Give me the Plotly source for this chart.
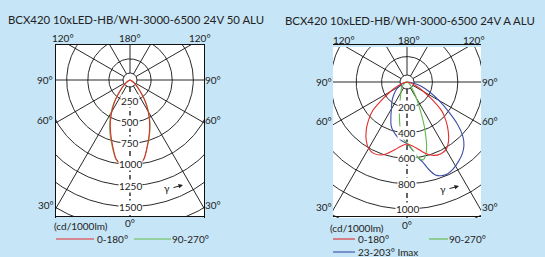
import numpy as np
import plotly.graph_objects as go

W, H = 545, 257

TITLES = ["BCX420 10xLED-HB/WH-3000-6500 24V 50 ALU",
          "BCX420 10xLED-HB/WH-3000-6500 24V A ALU"]

# ---- left diagram (cd/1000lm), gamma in degrees (negative = left half)
L_GAMMA = [-90, -80, -70, -65, -60, -55, -50, -45, -40, -35, -30, -25, -20, -15, -10, -5, 0,
           5, 10, 15, 20, 25, 30, 35, 40, 45, 50, 55, 60, 65, 70, 80, 90]
L_RED = [0, 3, 8, 15, 30, 55, 90, 135, 210, 320, 430, 550, 670, 800, 950, 1020, 1045,
         1020, 950, 800, 670, 550, 430, 320, 210, 135, 90, 55, 30, 15, 8, 3, 0]
L_GREEN = [0, 3, 8, 15, 30, 56, 92, 140, 218, 335, 450, 570, 690, 815, 955, 1015, 1035,
           1015, 950, 805, 680, 560, 440, 328, 214, 138, 91, 55, 30, 15, 8, 3, 0]

# ---- right diagram
R_RED_GAMMA = [-90, -85, -80, -75, -70, -65, -60, -55, -50, -45, -40, -35, -30, -25, -20, -15, -10, -5, 0,
               5, 10, 15, 20, 25, 30, 35, 40, 45, 50, 55, 60, 65, 70, 75, 80, 85, 90]
R_RED = [0, 3, 10, 25, 55, 100, 150, 235, 355, 430, 500, 560, 605, 620, 612, 580, 540, 505, 488,
         505, 540, 585, 615, 625, 615, 570, 505, 435, 360, 240, 150, 100, 55, 25, 10, 3, 0]

R_GREEN_GAMMA = [-90, -80, -70, -60, -50, -40, -30, -25, -20, -16, -13, -10, -7, -5, -3, 0,
                 3, 6, 9, 12, 14, 17, 20, 22, 25, 29, 33, 38, 45, 55, 70, 80, 90]
R_GREEN = [0, 4, 12, 25, 45, 70, 95, 120, 160, 215, 265, 330, 400, 430, 455, 480,
           510, 560, 610, 625, 600, 530, 420, 350, 250, 165, 110, 65, 40, 20, 8, 3, 0]

R_BLUE_GAMMA = [-90, -85, -80, -75, -70, -65, -60, -55, -50, -45, -40, -35, -30, -25, -20, -16, -12, -8, -4, 0,
                5, 8, 11, 14, 17, 20, 24, 28, 33, 38, 42, 46, 50, 55, 60, 65, 70, 75, 80, 85, 90]
R_BLUE = [0, 5, 13, 25, 38, 55, 75, 100, 125, 150, 180, 210, 245, 300, 365, 400, 425, 450, 470, 485,
          545, 600, 640, 710, 765, 785, 790, 775, 745, 710, 670, 610, 520, 390, 290, 210, 150, 100, 55, 25, 0]

L_RING_LABELS = [250, 500, 750, 1000, 1250, 1500]
L_RINGS = [250, 500, 750, 1000, 1250, 1500, 1750, 2000]
R_RING_LABELS = [200, 400, 600, 800, 1000]
R_RINGS = [200, 400, 600, 800, 1000, 1200, 1400]
RADIAL_ANGLES = [-150, -120, -90, -60, -30, 30, 60, 90, 120, 150, 180]

UNIT = "(cd/1000lm)"
LEG_C0 = "0-180°"
LEG_C90 = "90-270°"
LEG_IMAX = "23-203° Imax"

RED = "#e42b2f"
GREEN = "#62bb4a"
BLUE = "#3c4ea6"
BG = "#c6e5f6"
TXT = "#222222"
FONT = "Lato"


def px(x):
    return x / W


def py(y):
    return 1 - y / H


panels = [
    dict(box=(56, 204, 45, 216), pole=(130, 80), cdpx=250 / 21.1, rings=L_RINGS, labels=L_RING_LABELS,
         curves=[(L_GAMMA, L_GREEN, GREEN), (L_GAMMA, L_RED, RED)]),
    dict(box=(333, 481, 47, 218), pole=(407, 82), cdpx=200 / 25.4, rings=R_RINGS, labels=R_RING_LABELS,
         curves=[(R_BLUE_GAMMA, R_BLUE, BLUE), (R_GREEN_GAMMA, R_GREEN, GREEN), (R_RED_GAMMA, R_RED, RED)]),
]

fig = go.Figure()
annotations = []
shapes = []
GRID = dict(color="#111111", width=0.9)

for i, p in enumerate(panels):
    xa = "x" if i == 0 else "x2"
    ya = "y" if i == 0 else "y2"
    x0, x1, y0, y1 = p["box"]
    cx, cy = p["pole"]
    s = p["cdpx"]
    rmax = 3000
    r_small = 7 * s
    # rings
    t = np.linspace(0, 2 * np.pi, 361)
    for r in p["rings"]:
        fig.add_trace(go.Scatter(x=r * np.cos(t), y=r * np.sin(t), mode="lines", line=GRID,
                                 hoverinfo="skip", showlegend=False, xaxis=xa, yaxis=ya))
    # radial lines
    for g in RADIAL_ANGLES:
        a = np.radians(g)
        fig.add_trace(go.Scatter(x=[r_small * np.sin(a), rmax * np.sin(a)],
                                 y=[-r_small * np.cos(a), -rmax * np.cos(a)],
                                 mode="lines", line=GRID, hoverinfo="skip", showlegend=False,
                                 xaxis=xa, yaxis=ya))
    # 0 deg dashed axis
    fig.add_trace(go.Scatter(x=[0, 0], y=[-r_small, -rmax], mode="lines",
                             line=dict(color="#111111", width=1.3, dash="5px,3px"),
                             hoverinfo="skip", showlegend=False, xaxis=xa, yaxis=ya))
    # small pole circle
    fig.add_trace(go.Scatter(x=r_small * np.cos(t), y=r_small * np.sin(t), mode="lines", line=GRID,
                             hoverinfo="skip", showlegend=False, xaxis=xa, yaxis=ya))
    # curves
    for gam, val, col in p["curves"]:
        a = np.radians(np.array(gam, dtype=float))
        v = np.array(val, dtype=float)
        fig.add_trace(go.Scatter(x=v * np.sin(a), y=-v * np.cos(a), mode="lines",
                                 line=dict(color=col, width=1.1, shape="spline", smoothing=0.7),
                                 hoverinfo="skip", showlegend=False, xaxis=xa, yaxis=ya))
    # ring labels
    for v in p["labels"]:
        annotations.append(dict(x=0, y=-v, xref=xa, yref=ya, text=str(v), showarrow=False,
                                bgcolor="white", borderpad=0, font=dict(size=10, color=TXT, family=FONT)))
    axis_common = dict(showgrid=False, zeroline=False, showticklabels=False, ticks="",
                       showline=True, mirror=True, linecolor="#111111", linewidth=1, fixedrange=True)
    fig.update_layout(**{
        ("xaxis" if i == 0 else "xaxis2"): dict(domain=[px(x0), px(x1)],
                                               range=[(x0 - cx) * s, (x1 - cx) * s], **axis_common),
        ("yaxis" if i == 0 else "yaxis2"): dict(domain=[py(y1), py(y0)],
                                               range=[-(y1 - cy) * s, (cy - y0) * s], **axis_common),
    })


def txt(x, y, text, size=10, xanchor="center"):
    annotations.append(dict(x=px(x), y=py(y), xref="paper", yref="paper", text=text, showarrow=False,
                            xanchor=xanchor, yanchor="middle",
                            font=dict(size=size, color=TXT, family=FONT)))


# titles
txt(135.5, 20, TITLES[0], size=11.4)
txt(409.5, 20.5, TITLES[1], size=11.4)

# angle labels
ANG = [("120°", 63, 38), ("180°", 130, 38), ("120°", 200, 38), ("90°", 45, 80), ("90°", 213, 80),
       ("60°", 45, 120), ("60°", 213, 120), ("30°", 46, 205), ("30°", 213, 205), ("0°", 130, 223)]
for t_, x, y in ANG:
    txt(x, y, t_)
ANG2 = [("120°", 344, 39.5), ("180°", 408.5, 39.5), ("120°", 473.5, 39.5), ("90°", 323.5, 82), ("90°", 490, 82),
        ("60°", 324, 121), ("60°", 490, 121), ("30°", 323.5, 207), ("30°", 490, 207), ("0°", 407, 225)]
for t_, x, y in ANG2:
    txt(x, y, t_)

txt(80.5, 226, UNIT)
txt(357, 227.5, UNIT)


def legline(xa, xb, y, col):
    shapes.append(dict(type="line", xref="paper", yref="paper", x0=px(xa), x1=px(xb), y0=py(y), y1=py(y),
                       line=dict(color=col, width=1.1)))


legline(56, 94, 239, RED)
txt(95, 239, LEG_C0, xanchor="left")
legline(134, 171, 239, GREEN)
txt(170, 239, LEG_C90, xanchor="left")
legline(333, 355, 239, RED)
txt(356, 239, LEG_C0, xanchor="left")
legline(429, 448, 239, GREEN)
txt(447, 239, LEG_C90, xanchor="left")
legline(333, 355, 252, BLUE)
txt(356, 252, LEG_IMAX, xanchor="left")

# gamma arrows
for gx, gy in [(167, 188), (443, 189)]:
    txt(gx, gy, "γ", size=10)
    annotations.append(dict(x=px(gx + 16), y=py(gy - 3), xref="paper", yref="paper", text="",
                            showarrow=True, ax=-11, ay=3, arrowhead=2, arrowsize=0.9, arrowwidth=1,
                            arrowcolor=TXT))

fig.update_layout(width=W, height=H, margin=dict(l=0, r=0, t=0, b=0), paper_bgcolor=BG,
                  plot_bgcolor="white", showlegend=False, annotations=annotations, shapes=shapes,
                  font=dict(family=FONT, color=TXT))
fig.write_html("out.html")
